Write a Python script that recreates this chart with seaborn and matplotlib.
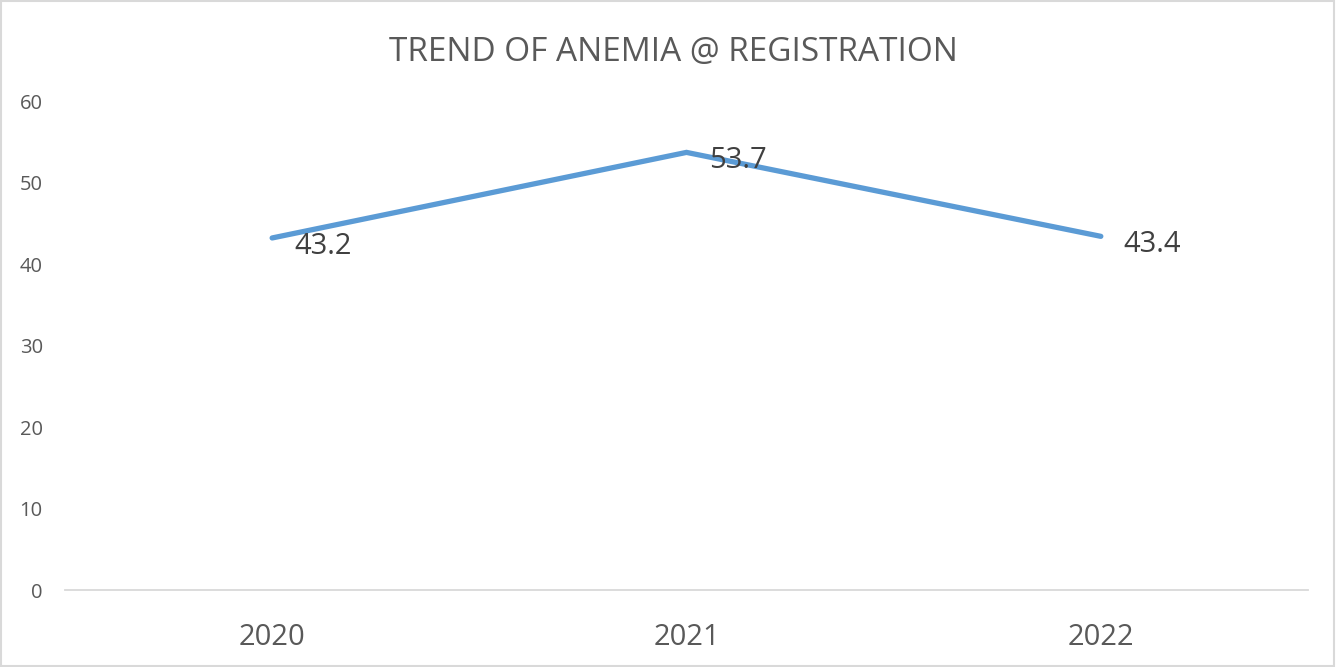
import seaborn as sns
import matplotlib.pyplot as plt
import pandas as pd
from matplotlib.patches import Rectangle

years = ["2020", "2021", "2022"]
anemia = [43.2, 53.7, 43.4]
y_ticks = [0, 10, 20, 30, 40, 50, 60]

sns.set_theme(style="white")
plt.rcParams['font.family'] = ['Open Sans', 'DejaVu Sans']

data = pd.DataFrame({'year': years, 'anemia': anemia})

fig = plt.figure(figsize=(13.37, 6.67), dpi=100)
ax = fig.add_axes([0.0486, 0.1154, 0.9297, 0.7331])

sns.lineplot(x='year', y='anemia', data=data, ax=ax, color='#5B9BD5',
             linewidth=3.8, solid_capstyle='round', solid_joinstyle='miter')

# data labels to the right of each point
for i, v in enumerate(anemia):
    ax.annotate(f"{v}", (i, v), xytext=(16, -6), textcoords='offset points',
                ha='left', va='center', fontsize=21, color='#404040')

ax.set_xlim(-0.5, 2.5)
ax.set_ylim(0, 60)
ax.set_yticks(y_ticks)
ax.set_xlabel('')
ax.set_ylabel('')

for side in ['top', 'right', 'left']:
    ax.spines[side].set_visible(False)
ax.spines['bottom'].set_color('#D9D9D9')
ax.spines['bottom'].set_linewidth(1.3)

ax.tick_params(axis='y', length=0, pad=16, labelsize=14.5, labelcolor='#595959')
ax.tick_params(axis='x', length=0, pad=24, labelsize=21, labelcolor='#595959')

fig.text(0.5035, 0.921, 'TREND OF ANEMIA @ REGISTRATION', ha='center', va='center',
         fontsize=24, color='#595959')

# light gray chart border
fig.patches.append(Rectangle((0.001, 0.002), 0.997, 0.996, transform=fig.transFigure,
                             fill=False, edgecolor='#D9D9D9', linewidth=1.5))

fig.savefig('out.png', dpi=100)
